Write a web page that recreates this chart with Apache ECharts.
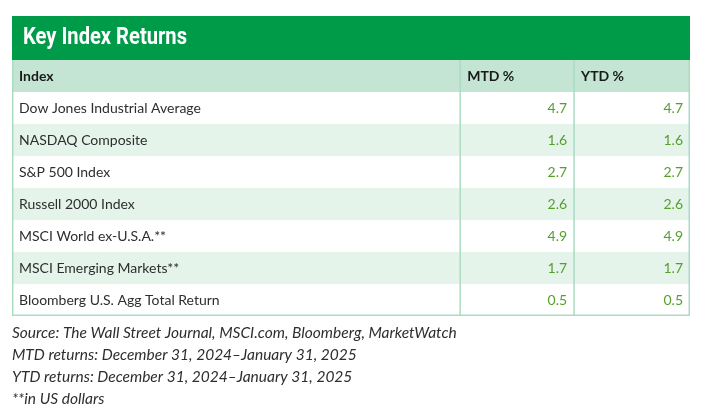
<!DOCTYPE html>
<html>
<head>
<meta charset="utf-8">
<script src="https://cdn.jsdelivr.net/npm/echarts@6/dist/echarts.min.js"></script>
<style>
  html, body { margin: 0; padding: 0; background: #fff; }
  #chart { width: 709px; height: 407px; }
</style>
</head>
<body>
<div id="chart"></div>
<script>
// table content
const chartTitle = 'Key Index Returns';
const columnHeaders = ['Index', 'MTD %', 'YTD %'];
const indexNames = [
  'Dow Jones Industrial Average',
  'NASDAQ Composite',
  'S&P 500 Index',
  'Russell 2000 Index',
  'MSCI World ex-U.S.A.**',
  'MSCI Emerging Markets**',
  'Bloomberg U.S. Agg Total Return'
];
const mtdReturns = [4.7, 1.6, 2.7, 2.6, 4.9, 1.7, 0.5];
const ytdReturns = [4.7, 1.6, 2.7, 2.6, 4.9, 1.7, 0.5];
const footnotes = [
  'Source: The Wall Street Journal, MSCI.com, Bloomberg, MarketWatch',
  'MTD returns: December 31, 2024\u2013January 31, 2025',
  'YTD returns: December 31, 2024\u2013January 31, 2025',
  '**in US dollars'
];

// layout (share of table width where each column ends)
const colEdges = [0, 66.1, 82.9, 100];
const GREEN = '#009b48';
const BORDER = '#a9dcc1';
const HEADER_BG = '#c4e5d3';
const ALT_BG = '#e4f4eb';
const VALUE_COLOR = '#55a02b';
const FONT = 'Lato, "Noto Sans", sans-serif';
const TITLE_FONT = 'bold 23px Roboto, sans-serif';

const rowLabels = [columnHeaders[0]].concat(indexNames);
const lastRow = rowLabels.length - 1;

// the title in the reference is a condensed face, squeeze a normal one to fit
const ctx = document.createElement('canvas').getContext('2d');
ctx.font = TITLE_FONT;
const titleScale = 164 / ctx.measureText(chartTitle).width;

const chart = echarts.init(document.getElementById('chart'));

function renderRow(params, api) {
  const row = api.value(0);
  const left = api.coord([0, row]);
  const h = api.size([0, 1])[1];
  const top = left[1] - h / 2;
  const xs = colEdges.map(function (e) { return api.coord([e, row])[0]; });
  const isHeader = row === 0;
  const fill = isHeader ? HEADER_BG : (row % 2 === 0 ? ALT_BG : '#ffffff');
  const cy = left[1];
  const bodyFont = (isHeader ? 'bold ' : '') + '14px ' + FONT;

  const children = [
    { type: 'rect', shape: { x: xs[0], y: top, width: xs[3] - xs[0], height: h }, style: { fill: fill } }
  ];

  const cells = isHeader
    ? [columnHeaders[1], columnHeaders[2]]
    : [mtdReturns[row - 1].toFixed(1), ytdReturns[row - 1].toFixed(1)];

  children.push({
    type: 'text',
    style: {
      text: rowLabels[row], x: xs[0] + 7, y: cy,
      align: 'left', verticalAlign: 'middle',
      textAlign: 'left', textVerticalAlign: 'middle',
      fill: isHeader ? '#1a1a1a' : '#2e2e2e', font: bodyFont
    }
  });
  cells.forEach(function (txt, i) {
    const x = isHeader ? xs[i + 1] + 7 : xs[i + 2] - 7;
    const al = isHeader ? 'left' : 'right';
    children.push({
      type: 'text',
      style: {
        text: txt, x: x, y: cy,
        align: al, verticalAlign: 'middle',
        textAlign: al, textVerticalAlign: 'middle',
        fill: isHeader ? '#1a1a1a' : VALUE_COLOR, font: bodyFont
      }
    });
  });

  // grid lines: outer left/right, column separators, bottom edge
  [xs[0] + 0.75, xs[1], xs[2], xs[3] - 0.75].forEach(function (x) {
    children.push({
      type: 'line', shape: { x1: x, y1: top, x2: x, y2: top + h },
      style: { stroke: BORDER, lineWidth: 1.5 }
    });
  });
  if (row === lastRow) {
    children.push({
      type: 'line', shape: { x1: xs[0], y1: top + h - 0.75, x2: xs[3], y2: top + h - 0.75 },
      style: { stroke: BORDER, lineWidth: 1.5 }
    });
  }
  return { type: 'group', children: children };
}

const option = {
  animation: false,
  grid: { left: 12, top: 60, width: 678, height: 256, containLabel: false },
  xAxis: { type: 'value', min: 0, max: 100, show: false },
  yAxis: { type: 'category', data: rowLabels, inverse: true, show: false },
  graphic: [
    { type: 'rect', left: 12, top: 16, z: -1, shape: { width: 678, height: 44 }, style: { fill: GREEN } },
    {
      type: 'text',
      x: 23,
      y: 38,
      scaleX: titleScale,
      style: {
        text: chartTitle,
        font: TITLE_FONT,
        fill: '#ffffff',
        textVerticalAlign: 'middle',
        verticalAlign: 'middle',
        shadowColor: 'rgba(0,0,0,0.35)',
        shadowBlur: 2,
        shadowOffsetX: 1,
        shadowOffsetY: 1
      }
    }
  ].concat(footnotes.map(function (line, i) {
    return {
      type: 'text',
      left: 12,
      top: 325 + i * 22,
      style: { text: line, fill: '#2e2e2e', font: 'italic 15.5px ' + FONT }
    };
  })),
  series: [{
    type: 'custom',
    renderItem: renderRow,
    encode: { x: -1, y: 0 },
    data: rowLabels.map(function (_, i) { return [i]; }),
    z: 1
  }]
};

chart.setOption(option);
</script>
</body>
</html>
